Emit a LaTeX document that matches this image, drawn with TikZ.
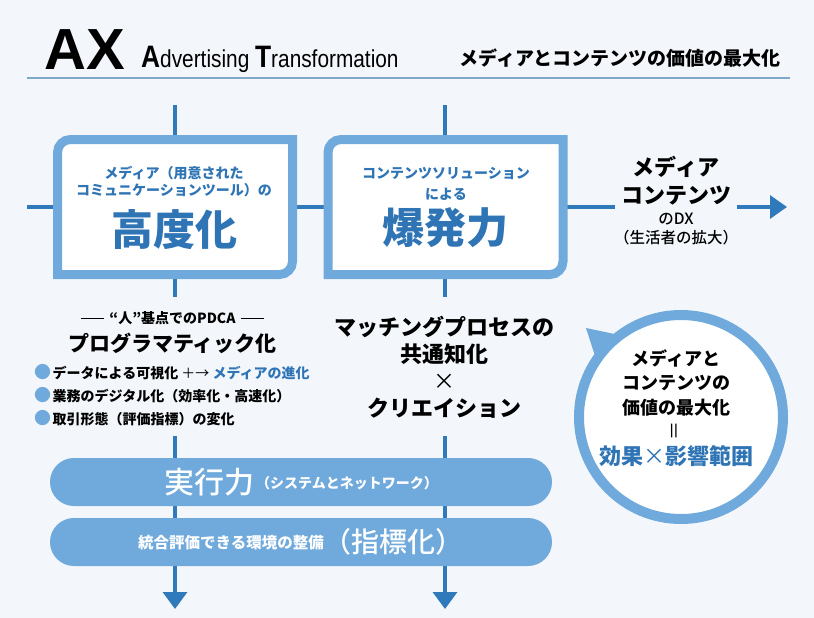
\documentclass[tikz,border=0pt]{standalone}
\usepackage{fontspec}
\setmainfont{Noto Sans CJK JP}
\newfontfamily\jpmedium{Noto Sans CJK JP Medium}
\newfontfamily\latinfont{Liberation Sans}
\newfontfamily\narrowfont[FakeStretch=0.85]{Liberation Sans}
\usetikzlibrary{arrows.meta}

\definecolor{pagebg}{HTML}{F3F7FB}
\definecolor{flowblue}{HTML}{3079BA}
\definecolor{frameblue}{HTML}{70A9DB}
\definecolor{textblue}{HTML}{2F74B5}
\definecolor{ruleblue}{HTML}{7FA8C9}

\newcommand{\setsize}[2]{\fontsize{#1}{#2}\selectfont}
\newcommand{\dotmark}{{\color{frameblue}\setsize{17}{17}●}\hspace{1.5pt}}

\tikzset{
  flow/.style={draw=flowblue, line width=3.5pt},
  flowend/.style={flow, -{Triangle[width=24pt, length=17pt]}},
  panel/.style={rectangle, minimum width=235pt, minimum height=135pt, inner sep=0pt, outer sep=0pt},
  frame/.style={draw=frameblue, line width=9pt, fill=white},
  boxnote/.style={text=textblue, align=center, font=\bfseries\setsize{14}{17}},
  boxword/.style={text=textblue, font=\bfseries\setsize{42}{42}},
  heading/.style={align=center, font=\bfseries\setsize{22}{28}},
  bulletitem/.style={anchor=west, inner sep=0pt, font=\bfseries\setsize{14}{16}},
  bar/.style={rectangle, rounded corners=23.9pt, fill=frameblue, minimum width=502pt, minimum height=48pt, text=white},
  bubble/.style={circle, draw=frameblue, line width=10pt, fill=white, minimum size=204pt, inner sep=0pt},
}

\begin{document}
\begin{tikzpicture}[x=1pt, y=-1pt]
  \fill[pagebg] (0,0) rectangle (814,618);
  \useasboundingbox (0,0) rectangle (814,618);

  % title
  \node[anchor=base west, inner sep=0pt, font=\latinfont\bfseries\setsize{58}{58}] (ax) at (44,70) {AX};
  \node[anchor=base west, inner sep=0pt, font=\narrowfont\setsize{24.5}{25}] (axname) at (141,67)
    {{\bfseries\setsize{31}{31}A}dvertising {\bfseries\setsize{31}{31}T}ransformation};
  \node[anchor=east, inner sep=0pt, font=\bfseries\setsize{19}{20}] (slogan) at (781,58) {メディアとコンテンツの価値の最大化};
  \coordinate (ruleL) at (27,78);
  \coordinate (ruleR) at (790,78);
  \draw[ruleblue, line width=1.5pt] (ruleL) -- (ruleR);

  % flow lines
  \node[heading, inner sep=6pt] (dxhead) at (676,181) {メディア\\コンテンツ};
  \node[align=center, font=\jpmedium\setsize{15.5}{19}] (dxsub) at (676,229.5) {のDX\\（生活者の拡大）};
  \coordinate (hstart) at (27,207);
  \coordinate (hend) at (787,207);
  \draw[flow] (hstart) -- (hstart -| dxhead.west);
  \draw[flow, -{Triangle[width=23pt, length=17pt]}] (hstart -| dxhead.east) -- (hend);

  \coordinate (atop) at (175,105);
  \coordinate (agap1) at (175,297);
  \coordinate (agap2) at (175,436);
  \coordinate (abot) at (175,609);
  \coordinate (btop) at (445,105);
  \coordinate (bgap1) at (445,297);
  \coordinate (bgap2) at (445,436);
  \coordinate (bbot) at (445,609);
  \draw[flow] (atop) -- (agap1);
  \draw[flowend] (agap2) -- (abot);
  \draw[flow] (btop) -- (bgap1);
  \draw[flowend] (bgap2) -- (bbot);

  % panels
  \node[panel] (box1) at (175,207) {};
  \node[panel] (box2) at (445.5,207) {};
  \foreach \b in {box1, box2}
    \draw[frame] (\b.north east) -- ([xshift=13pt]\b.north west)
      arc[start angle=90, end angle=180, radius=13pt] -- (\b.south west)
      -- ([xshift=-13pt]\b.south east) arc[start angle=270, end angle=360, radius=13pt] -- cycle;

  \node[boxnote] (note1) at (174,181.5) {メディア（用意された\\コミュニケーションツール）の};
  \node[boxword] (word1) at (174,230) {高度化};
  \node[boxnote, font=\bfseries\setsize{14}{21}] (note2) at (446,183.5) {コンテンツソリューション\\による};
  \node[boxword] (word2) at (445,228) {爆発力};

  % programmatic
  \node[font=\bfseries\setsize{14}{16}] (pdca) at (172.5,318)
    {\rule[4.5pt]{23pt}{0.8pt}\hspace{5pt}“人”基点でのPDCA\hspace{5pt}\rule[4.5pt]{23pt}{0.8pt}};
  \node[heading, font=\bfseries\setsize{21}{26}] (prog) at (172.5,343) {プログラマティック化};
  \node[bulletitem] (item1) at (34,372) {\dotmark データによる可視化\ {\mdseries ＋→}\ {\color{textblue}メディアの進化}};
  \node[bulletitem] (item2) at (34,395) {\dotmark 業務のデジタル化（効率化・高速化）};
  \node[bulletitem] (item3) at (34,418) {\dotmark 取引形態（評価指標）の変化};

  % matching
  \node[heading, font=\bfseries\setsize{22}{27}] (match) at (444,367) {マッチングプロセスの\\共通知化\\{\mdseries ×}\\クリエイション};

  % bars
  \node[bar] (bar1) at (301,482) {{\jpmedium\setsize{30}{30}実行力}\hspace{2pt}\raisebox{4.5pt}{\bfseries\setsize{14}{14}（システムとネットワーク）}};
  \node[bar] (bar2) at (301,542) {\raisebox{4.5pt}{\bfseries\setsize{15.5}{16}統合評価できる環境の整備}{\jpmedium\setsize{28}{28}（指標化）}};

  % value circle
  \node[bubble] (valuecircle) at (681,417) {};
  \fill[frameblue] (valuecircle.129) -- (586,328) -- (valuecircle.144) -- cycle;
  \node[align=center, font=\bfseries\setsize{18}{24.5}] (valuetext) at (676,382.5) {メディアと\\コンテンツの\\価値の最大化};
  \node[font=\setsize{19}{19}] (valueeq) at (676,431) {\rotatebox{90}{＝}};
  \node[text=textblue, font=\bfseries\setsize{22}{22}] (valueword) at (676,456) {効果{\mdseries ×}影響範囲};
\end{tikzpicture}
\end{document}
